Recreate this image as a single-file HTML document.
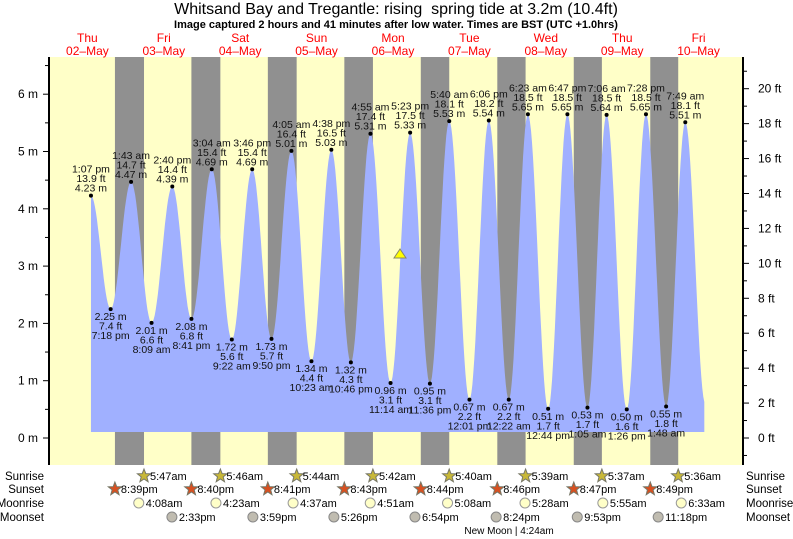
<!DOCTYPE html>
<html><head><meta charset="utf-8"><style>
body{margin:0;background:#fff;}
svg{display:block;font-family:"Liberation Sans",sans-serif;}
</style></head><body>
<svg id="s" width="793" height="539" xmlns="http://www.w3.org/2000/svg"></svg>
<script>
const S=document.getElementById('s');
let h='';
const X0=125.6,PH=76.4/24;
const xt=t=>X0+t*PH;
const Y0=438,PM=57.3;
const ym=m=>Y0-m*PM;
h+='<rect x="49" y="57" width="695" height="408" fill="#ffffc8"/>';
const nights=[[-3.35,5.783],[20.667,29.767],[44.683,53.733],[68.717,77.7],[92.733,101.667],[116.767,125.65],[140.783,149.617],[164.817,173.6]];
nights.forEach(n=>{h+=`<rect x="${xt(n[0])}" y="57" width="${xt(n[1])-xt(n[0])}" height="408" fill="#909090"/>`;});
const ev=[[-10.883,4.23,'1:07 pm'],[-4.7,2.25,'7:18 pm'],[1.717,4.47,'1:43 am'],[8.15,2.01,'8:09 am'],[14.667,4.39,'2:40 pm'],[20.683,2.08,'8:41 pm'],[27.067,4.69,'3:04 am'],[33.367,1.72,'9:22 am'],[39.767,4.69,'3:46 pm'],[45.833,1.73,'9:50 pm'],[52.083,5.01,'4:05 am'],[58.383,1.34,'10:23 am'],[64.633,5.03,'4:38 pm'],[70.767,1.32,'10:46 pm'],[76.917,5.31,'4:55 am'],[83.233,0.96,'11:14 am'],[89.383,5.33,'5:23 pm'],[95.6,0.95,'11:36 pm'],[101.667,5.53,'5:40 am'],[108.017,0.67,'12:01 pm'],[114.1,5.54,'6:06 pm'],[120.367,0.67,'12:22 am'],[126.383,5.65,'6:23 am'],[132.733,0.51,'12:44 pm'],[138.783,5.65,'6:47 pm'],[145.083,0.53,'1:05 am'],[151.1,5.64,'7:06 am'],[157.433,0.50,'1:26 pm'],[163.467,5.65,'7:28 pm'],[169.8,0.55,'1:48 am'],[175.817,5.51,'7:49 am'],[182.1,0.6,'']];
const tEnd=181.8;
let p=`M${xt(ev[0][0])},432`;
for(let i=0;i<ev.length-1;i++){const a=ev[i],b=ev[i+1];for(let k=0;k<=20;k++){const t=a[0]+(b[0]-a[0])*k/20;if(t>tEnd)break;const f=(1-Math.cos(Math.PI*k/20))/2;p+=`L${xt(t).toFixed(1)},${ym(a[1]+(b[1]-a[1])*f).toFixed(1)}`;}}
p+=`L${xt(tEnd)},432Z`;
h+=`<path d="${p}" fill="#a0b0ff"/>`;
ev.slice(0,-1).forEach((e,i)=>{const x=xt(e[0]),y=ym(e[1]);h+=`<circle cx="${x}" cy="${y}" r="2" fill="#000"/>`;
const ft=(e[1]/0.3048).toFixed(1)+' ft',m=e[1].toFixed(2)+' m';
const hi=(i%2==0);
const L=hi?[e[2],ft,m]:[m,ft,e[2]];
const by=hi?y-23:y+11;
L.forEach((s,j)=>{h+=`<text x="${x}" y="${by+j*9.5}" font-size="10.5" text-anchor="middle" fill="#111">${s}</text>`;});});
h+='<line x1="49" y1="57" x2="49" y2="465" stroke="#000" stroke-width="2"/><line x1="743" y1="57" x2="743" y2="465" stroke="#000" stroke-width="2"/>';
for(let m=-0.5;m<=6.5;m+=0.5){const y=ym(m);if(y<57||y>465)continue;const maj=Number.isInteger(m);h+=`<line x1="${maj?43:45}" y1="${y}" x2="49" y2="${y}" stroke="#000"/>`;if(maj)h+=`<text x="38" y="${y+4}" font-size="12" text-anchor="end">${m} m</text>`;}
for(let f=-1;f<=22;f++){const y=Y0-f*0.3048*PM;if(y<57||y>465)continue;const maj=f%2==0;h+=`<line x1="743" y1="${y}" x2="${maj?749:747}" y2="${y}" stroke="#000"/>`;if(maj)h+=`<text x="758" y="${y+4}" font-size="12">${f} ft</text>`;}
h+='<text x="396" y="14" font-size="16" text-anchor="middle">Whitsand Bay and Tregantle: rising&#160; spring tide at 3.2m (10.4ft)</text>';
h+='<text x="396" y="28" font-size="11" font-weight="bold" text-anchor="middle">Image captured 2 hours and 41 minutes after low water. Times are BST (UTC +1.0hrs)</text>';
const days=[['Thu','02–May'],['Fri','03–May'],['Sat','04–May'],['Sun','05–May'],['Mon','06–May'],['Tue','07–May'],['Wed','08–May'],['Thu','09–May'],['Fri','10–May']];
days.forEach((d,i)=>{const x=xt(-12+24*i);h+=`<text x="${x}" y="42" font-size="12" fill="#f00" text-anchor="middle">${d[0]}</text><text x="${x}" y="55" font-size="12" fill="#f00" text-anchor="middle">${d[1]}</text>`;});
h+=`<polygon points="394,258 406,258 400,249" fill="#ff0" stroke="#886"/>`;
const rows=[['Sunrise',476],['Sunset',489],['Moonrise',503],['Moonset',517]];
rows.forEach(r=>{h+=`<text x="44" y="${r[1]+4}" font-size="11.5" text-anchor="end">${r[0]}</text><text x="746" y="${r[1]+4}" font-size="11.5">${r[0]}</text>`;});
function star(x,y,c){let pts='';for(let k=0;k<10;k++){const a=-Math.PI/2+k*Math.PI/5,rr=k%2?3:7;pts+=(x+rr*Math.cos(a)).toFixed(1)+','+(y+rr*Math.sin(a)).toFixed(1)+' ';}return `<polygon points="${pts}" fill="${c}" stroke="#776"/>`;}
const sr=['5:47am','5:46am','5:44am','5:42am','5:40am','5:39am','5:37am','5:36am'],ss=['8:39pm','8:40pm','8:41pm','8:43pm','8:44pm','8:46pm','8:47pm','8:49pm'],mr=['4:08am','4:23am','4:37am','4:51am','5:08am','5:28am','5:55am','6:33am'],ms=['2:33pm','3:59pm','5:26pm','6:54pm','8:24pm','9:53pm','11:18pm'];
const hr=s=>{let [a,b]=s.slice(0,-2).split(':').map(Number);if(s.endsWith('pm')&&a!=12)a+=12;return a+b/60;};
for(let d=0;d<8;d++){
let x=xt(24*d+hr(sr[d]));h+=star(x,476,'#c8b838')+`<text x="${x+6}" y="480" font-size="11">${sr[d]}</text>`;
x=xt(24*d-24+hr(ss[d]));h+=star(x,489,'#d85020')+`<text x="${x+6}" y="493" font-size="11">${ss[d]}</text>`;
x=xt(24*d+hr(mr[d]));h+=`<circle cx="${x}" cy="503" r="5" fill="#ffffc8" stroke="#999"/><text x="${x+7}" y="507" font-size="11">${mr[d]}</text>`;
if(d<7){x=xt(24*d+hr(ms[d]));h+=`<circle cx="${x}" cy="517" r="5" fill="#c0bcb0" stroke="#888"/><text x="${x+7}" y="521" font-size="11">${ms[d]}</text>`;}
}
h+='<text x="509" y="534" font-size="10" text-anchor="middle">New Moon | 4:24am</text>';
S.innerHTML=h;
</script>
</body></html>
